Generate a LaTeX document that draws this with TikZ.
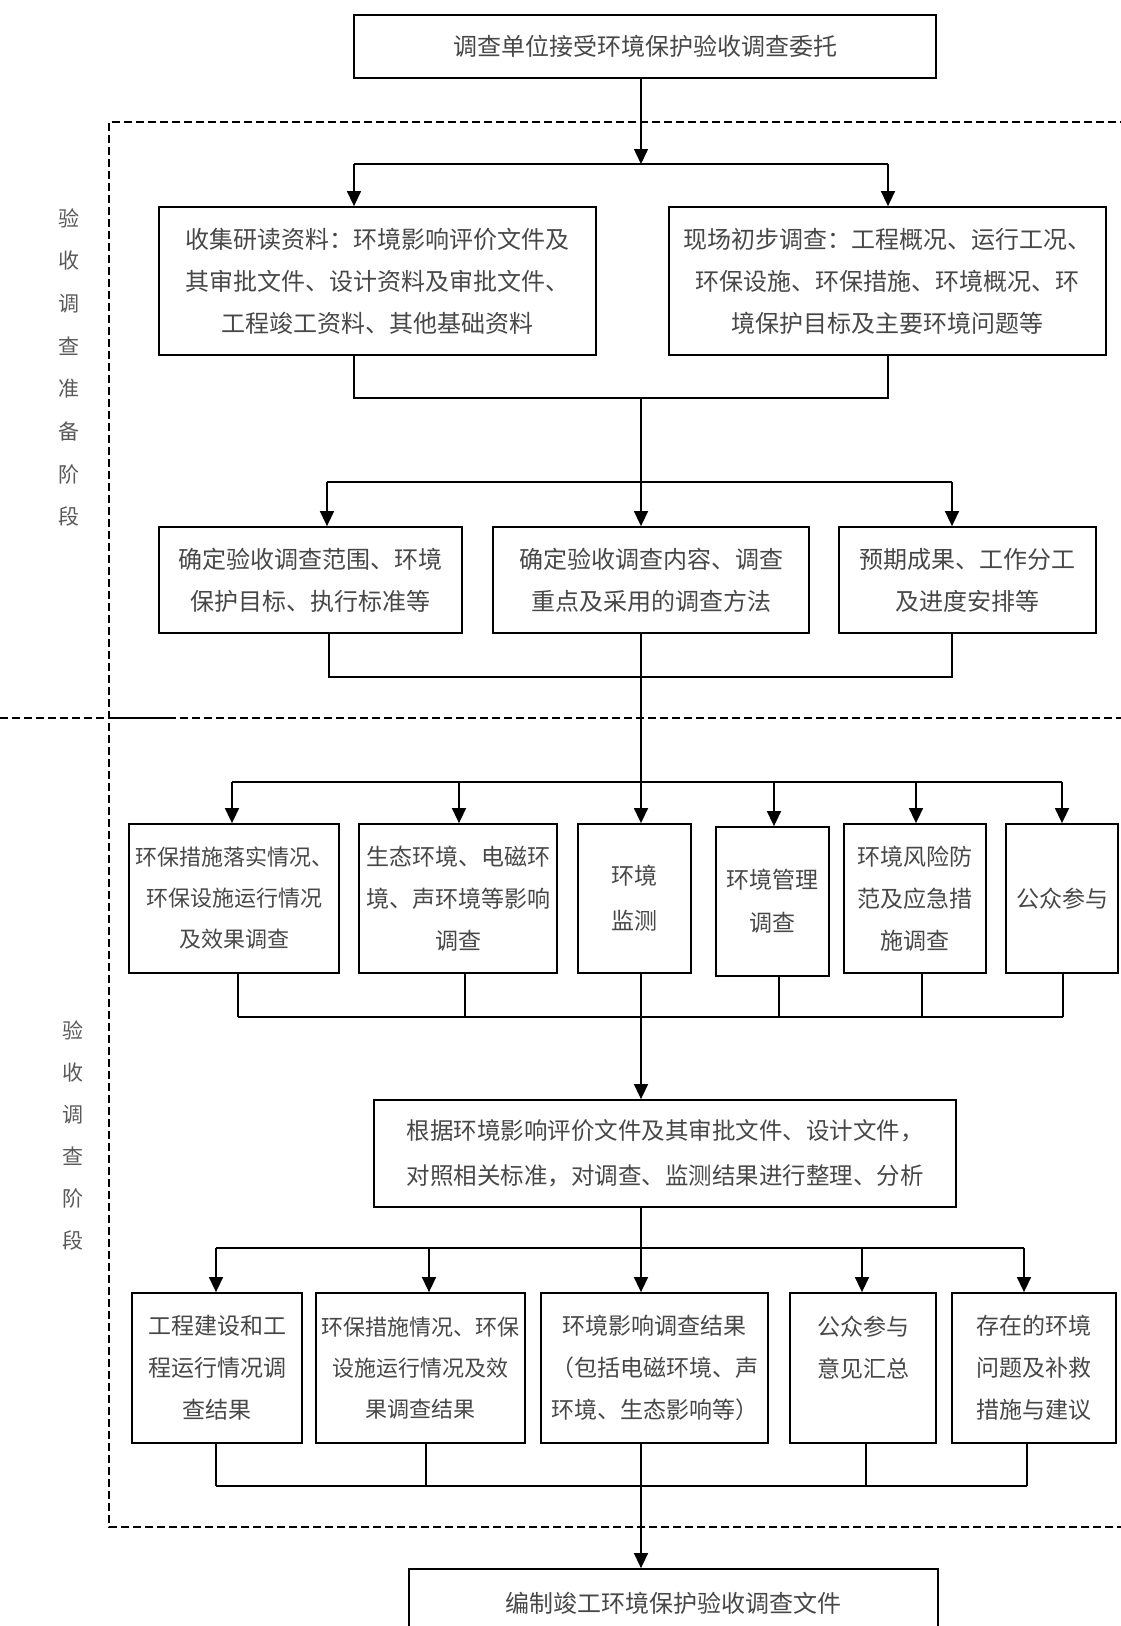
\documentclass[tikz,border=0pt]{standalone}
\usepackage{fontspec}
\newfontfamily\cjk{Noto Sans CJK SC}
\usetikzlibrary{arrows.meta}
\begin{document}
\begin{tikzpicture}[x=1pt,y=-1pt,
  box/.style={draw, line width=1.8pt, inner sep=0pt, align=center, text=black!72,
    font={\cjk\fontsize{23}{42}\selectfont}},
  bigtxt/.style={font={\cjk\fontsize{24}{42}\selectfont}},
  smalltxt/.style={font={\cjk\fontsize{22}{41}\selectfont}},
  ln/.style={line width=1.5pt},
  arr/.style={line width=1.5pt, -{Triangle[length=15pt,width=14pt]}},
  dashln/.style={line width=1.8pt, dash pattern=on 8pt off 4pt},
  lab/.style={inner sep=0pt, align=center, text=black!65}]
\useasboundingbox (0,0) rectangle (1121,1626);
\clip (0,0) rectangle (1121,1626);

% dashed stage frame
\draw[dashln] (1140,122) -- (109,122) -- (109,1527) -- (1140,1527);
\draw[dashln] (0,718) -- (1140,718);
\draw[ln] (109,718) -- (168,718);

% stage labels
\node[lab, font={\cjk\fontsize{21}{42.7}\selectfont}] (lab1) at (69,367.5) {验\\收\\调\\查\\准\\备\\阶\\段};
\node[lab, font={\cjk\fontsize{21}{42}\selectfont}] (lab2) at (73,1135) {验\\收\\调\\查\\阶\\段};

% boxes
\node[box, bigtxt, minimum width=582pt, minimum height=63pt] (T) at (645,46.5) {调查单位接受环境保护验收调查委托};
\node[box, bigtxt, minimum width=437pt, minimum height=148pt] (A) at (377.5,281) {收集研读资料：环境影响评价文件及\\其审批文件、设计资料及审批文件、\\工程竣工资料、其他基础资料};
\node[box, bigtxt, minimum width=437pt, minimum height=148pt] (B) at (887.5,281) {现场初步调查：工程概况、运行工况、\\环保设施、环保措施、环境概况、环\\境保护目标及主要环境问题等};

\node[box, bigtxt, minimum width=303pt, minimum height=106pt] (C) at (310.5,580) {确定验收调查范围、环境\\保护目标、执行标准等};
\node[box, bigtxt, minimum width=316pt, minimum height=106pt] (D) at (651,580) {确定验收调查内容、调查\\重点及采用的调查方法};
\node[box, bigtxt, minimum width=257pt, minimum height=106pt] (E) at (967.5,580) {预期成果、工作分工\\及进度安排等};

\node[box, smalltxt, minimum width=210pt, minimum height=149pt] (F) at (234,898.5) {环保措施落实情况、\\环保设施运行情况\\及效果调查};
\node[box, minimum width=198pt, minimum height=149pt] (G) at (458,898.5) {生态环境、电磁环\\境、声环境等影响\\调查};
\node[box, minimum width=113pt, minimum height=149pt, font={\cjk\fontsize{23}{45}\selectfont}] (H) at (634.5,898.5) {环境\\监测};
\node[box, minimum width=113pt, minimum height=149pt, font={\cjk\fontsize{23}{43}\selectfont}] (I) at (772.5,901.5) {环境管理\\调查};
\node[box, minimum width=142pt, minimum height=149pt] (J) at (915,898.5) {环境风险防\\范及应急措\\施调查};
\node[box, minimum width=112pt, minimum height=149pt] (K) at (1062,898.5) {公众参与};

\node[box, minimum width=582pt, minimum height=107pt, font={\cjk\fontsize{23.5}{45}\selectfont}] (L) at (665,1153.5) {根据环境影响评价文件及其审批文件、设计文件，\\对照相关标准，对调查、监测结果进行整理、分析};

\node[box, minimum width=170pt, minimum height=150pt] (M) at (217,1368) {工程建设和工\\程运行情况调\\查结果};
\node[box, smalltxt, minimum width=209pt, minimum height=150pt] (N) at (420.5,1368) {环保措施情况、环保\\设施运行情况及效\\果调查结果};
\node[box, minimum width=227pt, minimum height=150pt] (O) at (654.5,1368) {环境影响调查结果\\（包括电磁环境、声\\环境、生态影响等）};
\node[box, minimum width=146pt, minimum height=150pt] (P) at (863,1368) {公众参与\\意见汇总\\\mbox{}};
\node[box, minimum width=164pt, minimum height=150pt] (Q) at (1034,1368) {存在的环境\\问题及补救\\措施与建议};

\node[box, bigtxt, minimum width=529pt, minimum height=68pt] (R) at (673.5,1603) {编制竣工环境保护验收调查文件};

% trunk x
\coordinate (j1) at (641,164);

% stage 1 connectors
\draw[arr] (j1 |- T.south) -- (j1);
\coordinate (s1l) at (354,164);
\coordinate (s1r) at (888,164);
\draw[ln] (s1l) -- (s1r);
\draw[arr] (s1l) -- (s1l |- A.north);
\draw[arr] (s1r) -- (s1r |- B.north);
\coordinate (m1l) at (354,398);
\coordinate (m1r) at (888,398);
\draw[ln] (m1l |- A.south) -- (m1l) -- (m1r) -- (m1r |- B.south);
\draw[arr] (j1 |- m1l) -- (j1 |- D.north);

\coordinate (s2l) at (327,482);
\coordinate (s2r) at (952,482);
\draw[ln] (s2l) -- (s2r);
\draw[arr] (s2l) -- (s2l |- C.north);
\draw[arr] (s2r) -- (s2r |- E.north);
\coordinate (m2l) at (329,677);
\coordinate (m2r) at (952,677);
\draw[ln] (m2l |- C.south) -- (m2l) -- (m2r) -- (m2r |- E.south);

% into stage 2
\draw[arr] (j1 |- D.south) -- (j1 |- H.north);
\coordinate (s3a) at (232,782);
\coordinate (s3b) at (459,782);
\coordinate (s3d) at (774,782);
\coordinate (s3e) at (916,782);
\coordinate (s3f) at (1062,782);
\draw[ln] (s3a) -- (s3f);
\draw[arr] (s3a) -- (s3a |- F.north);
\draw[arr] (s3b) -- (s3b |- G.north);
\draw[arr] (s3d) -- (s3d |- I.north);
\draw[arr] (s3e) -- (s3e |- J.north);
\draw[arr] (s3f) -- (s3f |- K.north);

\coordinate (m3a) at (238,1017);
\coordinate (m3b) at (465,1017);
\coordinate (m3d) at (779,1017);
\coordinate (m3e) at (922,1017);
\coordinate (m3f) at (1063,1017);
\draw[ln] (m3a) -- (m3f);
\draw[ln] (m3a |- F.south) -- (m3a);
\draw[ln] (m3b |- G.south) -- (m3b);
\draw[ln] (m3d |- I.south) -- (m3d);
\draw[ln] (m3e |- J.south) -- (m3e);
\draw[ln] (m3f |- K.south) -- (m3f);
\draw[arr] (j1 |- H.south) -- (j1 |- L.north);

\draw[arr] (j1 |- L.south) -- (j1 |- O.north);
\coordinate (s4a) at (216,1248);
\coordinate (s4b) at (429,1248);
\coordinate (s4d) at (862,1248);
\coordinate (s4e) at (1024,1248);
\draw[ln] (s4a) -- (s4e);
\draw[arr] (s4a) -- (s4a |- M.north);
\draw[arr] (s4b) -- (s4b |- N.north);
\draw[arr] (s4d) -- (s4d |- P.north);
\draw[arr] (s4e) -- (s4e |- Q.north);

\coordinate (m4a) at (216,1486);
\coordinate (m4b) at (426,1486);
\coordinate (m4d) at (866,1486);
\coordinate (m4e) at (1027,1486);
\draw[ln] (m4a) -- (m4e);
\draw[ln] (m4a |- M.south) -- (m4a);
\draw[ln] (m4b |- N.south) -- (m4b);
\draw[ln] (m4d |- P.south) -- (m4d);
\draw[ln] (m4e |- Q.south) -- (m4e);
\draw[arr] (j1 |- O.south) -- (j1 |- R.north);
\end{tikzpicture}
\end{document}
